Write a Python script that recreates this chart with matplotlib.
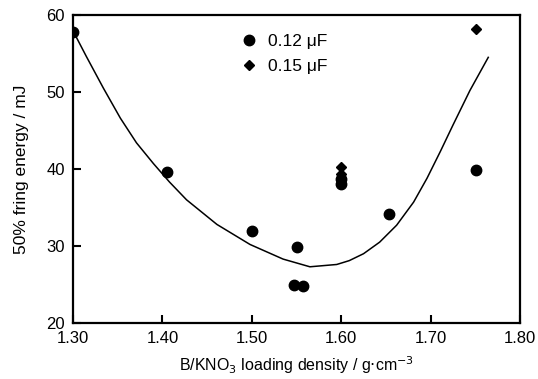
import matplotlib
matplotlib.use("Agg")
import matplotlib.pyplot as plt

# - Data

density_012 = [1.300, 1.405, 1.500, 1.550, 1.547, 1.557, 1.600, 1.600, 1.653, 1.751]
energy_012 = [57.8, 39.6, 31.9, 29.9, 24.9, 24.8, 38.1, 38.7, 34.2, 39.9]

density_015 = [1.600, 1.600, 1.751]
energy_015 = [39.4, 40.3, 58.2]

# fitted curve
curve_x = [1.302, 1.315, 1.334, 1.353, 1.371, 1.390, 1.408, 1.427, 1.461, 1.498,
           1.535, 1.565, 1.595, 1.609, 1.625, 1.643, 1.662, 1.681, 1.696, 1.711,
           1.725, 1.744, 1.7645]
curve_y = [57.5, 54.6, 50.5, 46.6, 43.4, 40.7, 38.3, 36.0, 32.8, 30.2,
           28.3, 27.3, 27.6, 28.1, 29.0, 30.5, 32.7, 35.7, 38.8, 42.3,
           45.7, 50.2, 54.5]

x_ticks = [1.30, 1.40, 1.50, 1.60, 1.70, 1.80]
y_ticks = [20, 30, 40, 50, 60]

plt.rcParams["font.family"] = ["Liberation Sans", "DejaVu Sans"]

fig = plt.figure(figsize=(5.38, 3.79), dpi=100)
ax = fig.add_axes([73 / 538, 1 - 323 / 379, 447 / 538, 308 / 379])

# - Marks

ax.plot(curve_x, curve_y, color="black", lw=1.1, zorder=2)
ax.plot(density_012, energy_012, "o", color="black", ms=7.5, label="0.12 μF", zorder=3)
ax.plot(density_015, energy_015, "D", color="black", ms=5, label="0.15 μF", zorder=3)

# - Axes

ax.set_xlim(1.30, 1.80)
ax.set_ylim(20, 60)
ax.set_xticks(x_ticks)
ax.set_xticklabels([f"{t:.2f}" for t in x_ticks])
ax.set_yticks(y_ticks)
ax.tick_params(direction="in", length=6, width=1.5, labelsize=12, pad=6,
               top=False, right=False)
for s in ax.spines.values():
    s.set_linewidth(1.6)

ax.set_xlabel("B/KNO$_3$ loading density / g$\\cdot$cm$^{-3}$", fontsize=11.5, labelpad=6)
ax.set_ylabel("50% fring energy / mJ", fontsize=12.5, labelpad=12)

ax.legend(loc="upper left", bbox_to_anchor=(0.34, 0.99), frameon=False, fontsize=12.5,
          handletextpad=0.6, labelspacing=0.6, handlelength=1.0)

fig.savefig("out.png", dpi=100)
